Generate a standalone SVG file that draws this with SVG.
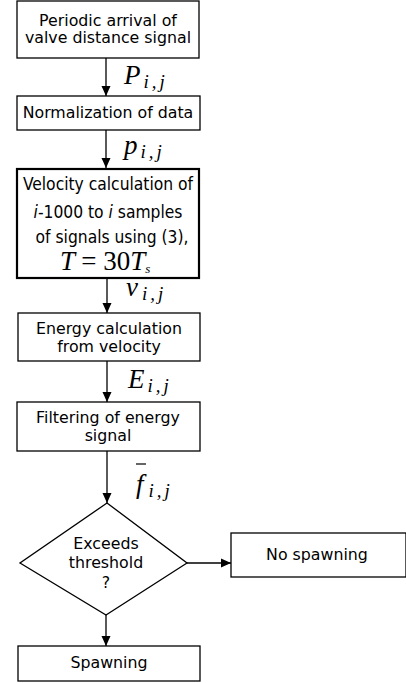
<svg xmlns="http://www.w3.org/2000/svg" width="406" height="683" viewBox="0 0 406 683">
<style>
.box{fill:#fff;stroke:#000;stroke-width:1.3}
.thick{stroke-width:2.2}
.t{font-family:"DejaVu Sans",sans-serif;font-size:15.8px;text-anchor:middle;fill:#000}
.c{font-family:"DejaVu Sans Condensed","DejaVu Sans",sans-serif;font-size:17.3px;text-anchor:middle;fill:#000}
.m{font-family:"Liberation Serif","DejaVu Serif",serif;font-style:italic;fill:#000;font-size:27px}
.s{font-size:19px}
.ln{stroke:#000;stroke-width:1.3;fill:none}
</style>
<defs>
<marker id="ah" markerWidth="10" markerHeight="10" refX="10" refY="5" orient="auto" markerUnits="userSpaceOnUse">
<path d="M0,0.5 L10,5 L0,9.5 Z" fill="#000"/>
</marker>
</defs>
<g id="connectors">
<line class="ln" x1="106" y1="58" x2="106" y2="96" marker-end="url(#ah)"/>
<line class="ln" x1="106" y1="130" x2="106" y2="168" marker-end="url(#ah)"/>
<line class="ln" x1="107" y1="278" x2="107" y2="313" marker-end="url(#ah)"/>
<line class="ln" x1="107" y1="361" x2="107" y2="402" marker-end="url(#ah)"/>
<line class="ln" x1="107" y1="451" x2="107" y2="503" marker-end="url(#ah)"/>
<line class="ln" x1="187" y1="563" x2="231" y2="563" marker-end="url(#ah)"/>
<line class="ln" x1="106" y1="615" x2="106" y2="646" marker-end="url(#ah)"/>
<text class="m" x="124" y="84">P<tspan class="s" dx="3" dy="4">i</tspan><tspan class="s" dx="3">,</tspan><tspan class="s" dx="3">j</tspan></text>
<text class="m" x="124" y="154">p<tspan class="s" dx="3" dy="4">i</tspan><tspan class="s" dx="3">,</tspan><tspan class="s" dx="3">j</tspan></text>
<text class="m" x="126" y="296">v<tspan class="s" dx="4" dy="4">i</tspan><tspan class="s" dx="3">,</tspan><tspan class="s" dx="3">j</tspan></text>
<text class="m" x="128" y="388">E<tspan class="s" dx="3" dy="4">i</tspan><tspan class="s" dx="3">,</tspan><tspan class="s" dx="3">j</tspan></text>
<text class="m" x="136" y="493">f<tspan class="s" dx="5" dy="4">i</tspan><tspan class="s" dx="3">,</tspan><tspan class="s" dx="3">j</tspan></text>
<line x1="136" y1="464" x2="146" y2="464" stroke="#000" stroke-width="1.2"/>
</g>
<g id="n1">
<rect class="box" x="17" y="1" width="182" height="57"/>
<text class="t" x="108" y="26">Periodic arrival of</text>
<text class="t" x="108" y="43">valve distance signal</text>
</g>
<g id="n2">
<rect class="box" x="17" y="96" width="183" height="34"/>
<text class="t" x="108" y="118">Normalization of data</text>
</g>
<g id="n3">
<rect class="box thick" x="17" y="169" width="182" height="109"/>
<text class="c" x="108" y="190">Velocity calculation of</text>
<text class="c" x="108" y="218"><tspan font-style="italic">i</tspan>-1000 to <tspan font-style="italic">i</tspan> samples</text>
<text class="c" x="112" y="243">of signals using (3),</text>
<text class="m" x="60" y="270" font-size="19">T <tspan font-style="normal">= 30</tspan>T<tspan font-size="13" dy="3">s</tspan></text>
</g>
<g id="n4">
<rect class="box" x="18" y="313" width="182" height="48"/>
<text class="t" x="109" y="334">Energy calculation</text>
<text class="t" x="109" y="352">from velocity</text>
</g>
<g id="n5">
<rect class="box" x="17" y="402" width="183" height="49"/>
<text class="t" x="108" y="423">Filtering of energy</text>
<text class="t" x="108" y="441">signal</text>
</g>
<g id="n6">
<polygon class="box" points="107,503 187,563 106,615 20,563"/>
<text class="t" x="106" y="549">Exceeds</text>
<text class="t" x="106" y="568">threshold</text>
<text class="t" x="106" y="588">?</text>
</g>
<g id="n7">
<rect class="box" x="231" y="533" width="175" height="44"/>
<text class="t" x="317" y="560">No spawning</text>
</g>
<g id="n8">
<rect class="box" x="18" y="646" width="182" height="35"/>
<text class="t" x="109" y="668">Spawning</text>
</g>
</svg>
